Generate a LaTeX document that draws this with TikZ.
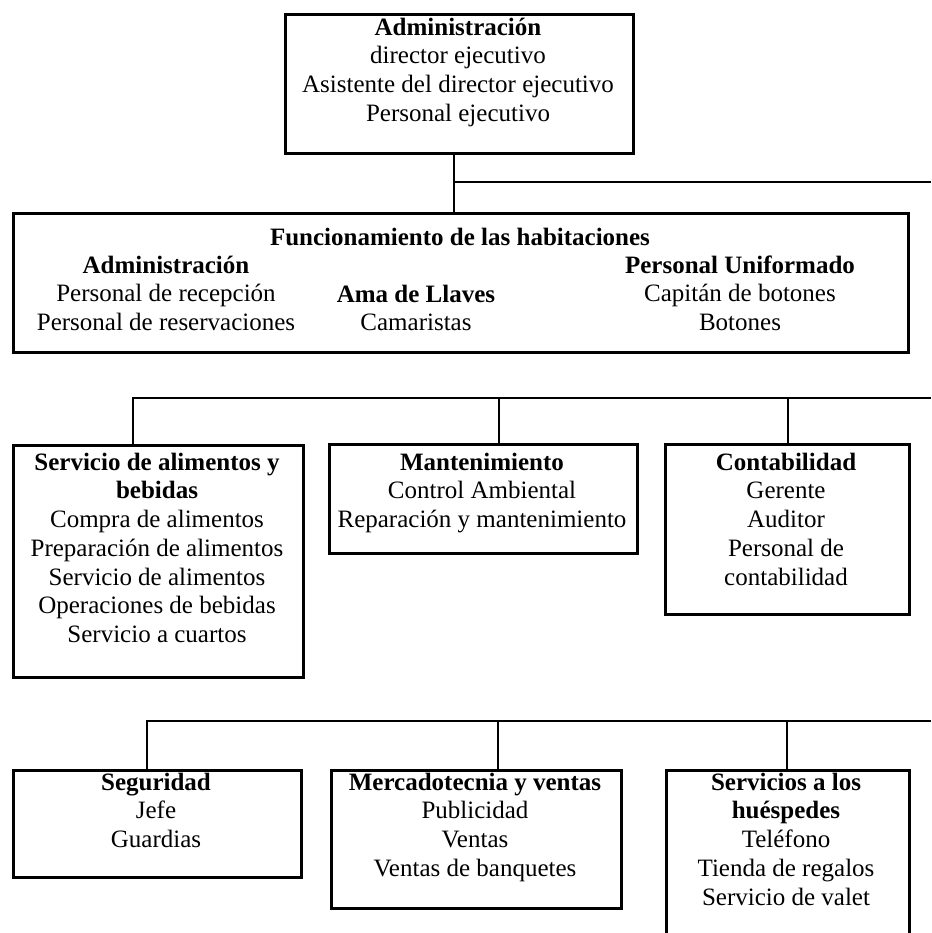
\documentclass[tikz,border=0pt]{standalone}
\usepackage{fontspec}
\setmainfont{Liberation Serif}
\newcommand\boxfont{\fontsize{25}{28.75}\selectfont}
\newcommand\fl{\rule{0pt}{20pt}}
\begin{document}
\begin{tikzpicture}[x=1pt,y=-1pt,
  box/.style={draw, line width=2.8pt, inner sep=0pt, anchor=north west},
  txt/.style={anchor=north, inner sep=0pt, align=center, font=\boxfont},
  conn/.style={line width=2.8pt}]
\useasboundingbox (0,0) rectangle (931,933);
\fill[white] (0,0) rectangle (931,933);
\clip (0,0) rectangle (931,933);

% ---------- boxes ----------
\node[box, minimum width=348pt, minimum height=139pt] (top) at (284,13) {};
\node[box, minimum width=895pt, minimum height=139pt] (fun) at (12,212) {};
\node[box, minimum width=290pt, minimum height=232pt] (alim) at (12,444) {};
\node[box, minimum width=308pt, minimum height=109pt] (mant) at (328,443) {};
\node[box, minimum width=244pt, minimum height=170pt] (cont) at (664,443) {};
\node[box, minimum width=288pt, minimum height=107pt] (seg) at (12,769) {};
\node[box, minimum width=290pt, minimum height=138pt] (merc) at (330,769) {};
\node[box, minimum width=243pt, minimum height=220pt] (serv) at (665,769) {};

% ---------- texts ----------
\node[txt] (topt) at (458,15) {\fl\textbf{Administración}\\ director ejecutivo\\ Asistente del director ejecutivo\\ Personal ejecutivo};
\node[txt] (funt) at (460,225) {\fl\textbf{Funcionamiento de las habitaciones}};
\node[txt] (funa) at (166,253) {\fl\textbf{Administración}\\ Personal de recepción\\ Personal de reservaciones};
\node[txt] (funb) at (416,282) {\fl\textbf{Ama de Llaves}\\ Camaristas};
\node[txt] (func) at (740,253) {\fl\textbf{Personal Uniformado}\\ Capitán de botones\\ Botones};
\node[txt] (alimt) at (157,450) {\fl\textbf{Servicio de alimentos y}\\ \textbf{bebidas}\\ Compra de alimentos\\ Preparación de alimentos\\ Servicio de alimentos\\ Operaciones de bebidas\\ Servicio a cuartos};
\node[txt] (mantt) at (482,450) {\fl\textbf{Mantenimiento}\\ Control Ambiental\\ Reparación y mantenimiento};
\node[txt] (contt) at (786,450) {\fl\textbf{Contabilidad}\\ Gerente\\ Auditor\\ Personal de\\ contabilidad};
\node[txt] (segt) at (156,770) {\fl\textbf{Seguridad}\\ Jefe\\ Guardias};
\node[txt] (merct) at (475,770) {\fl\textbf{Mercadotecnia y ventas}\\ Publicidad\\ Ventas\\ Ventas de banquetes};
\node[txt] (servt) at (786,770) {\fl\textbf{Servicios a los}\\ \textbf{huéspedes}\\ Teléfono\\ Tienda de regalos\\ Servicio de valet};

% ---------- connectors ----------
\coordinate (j1) at (454,182);
\coordinate (e1) at (931,182);
\draw[conn] (top.south -| j1) -- (fun.north -| j1);
\draw[conn] (j1) -- (e1);

\coordinate (j2a) at (133,398);
\coordinate (j2b) at (499,398);
\coordinate (j2c) at (788,398);
\coordinate (e2) at (931,398);
\draw[conn] (alim.north -| j2a) -- (j2a) -- (e2);
\draw[conn] (j2b) -- (mant.north -| j2b);
\draw[conn] (j2c) -- (cont.north -| j2c);

\coordinate (j3a) at (147,721);
\coordinate (j3b) at (498,721);
\coordinate (j3c) at (787,721);
\coordinate (e3) at (931,721);
\draw[conn] (seg.north -| j3a) -- (j3a) -- (e3);
\draw[conn] (j3b) -- (merc.north -| j3b);
\draw[conn] (j3c) -- (serv.north -| j3c);
\end{tikzpicture}
\end{document}
